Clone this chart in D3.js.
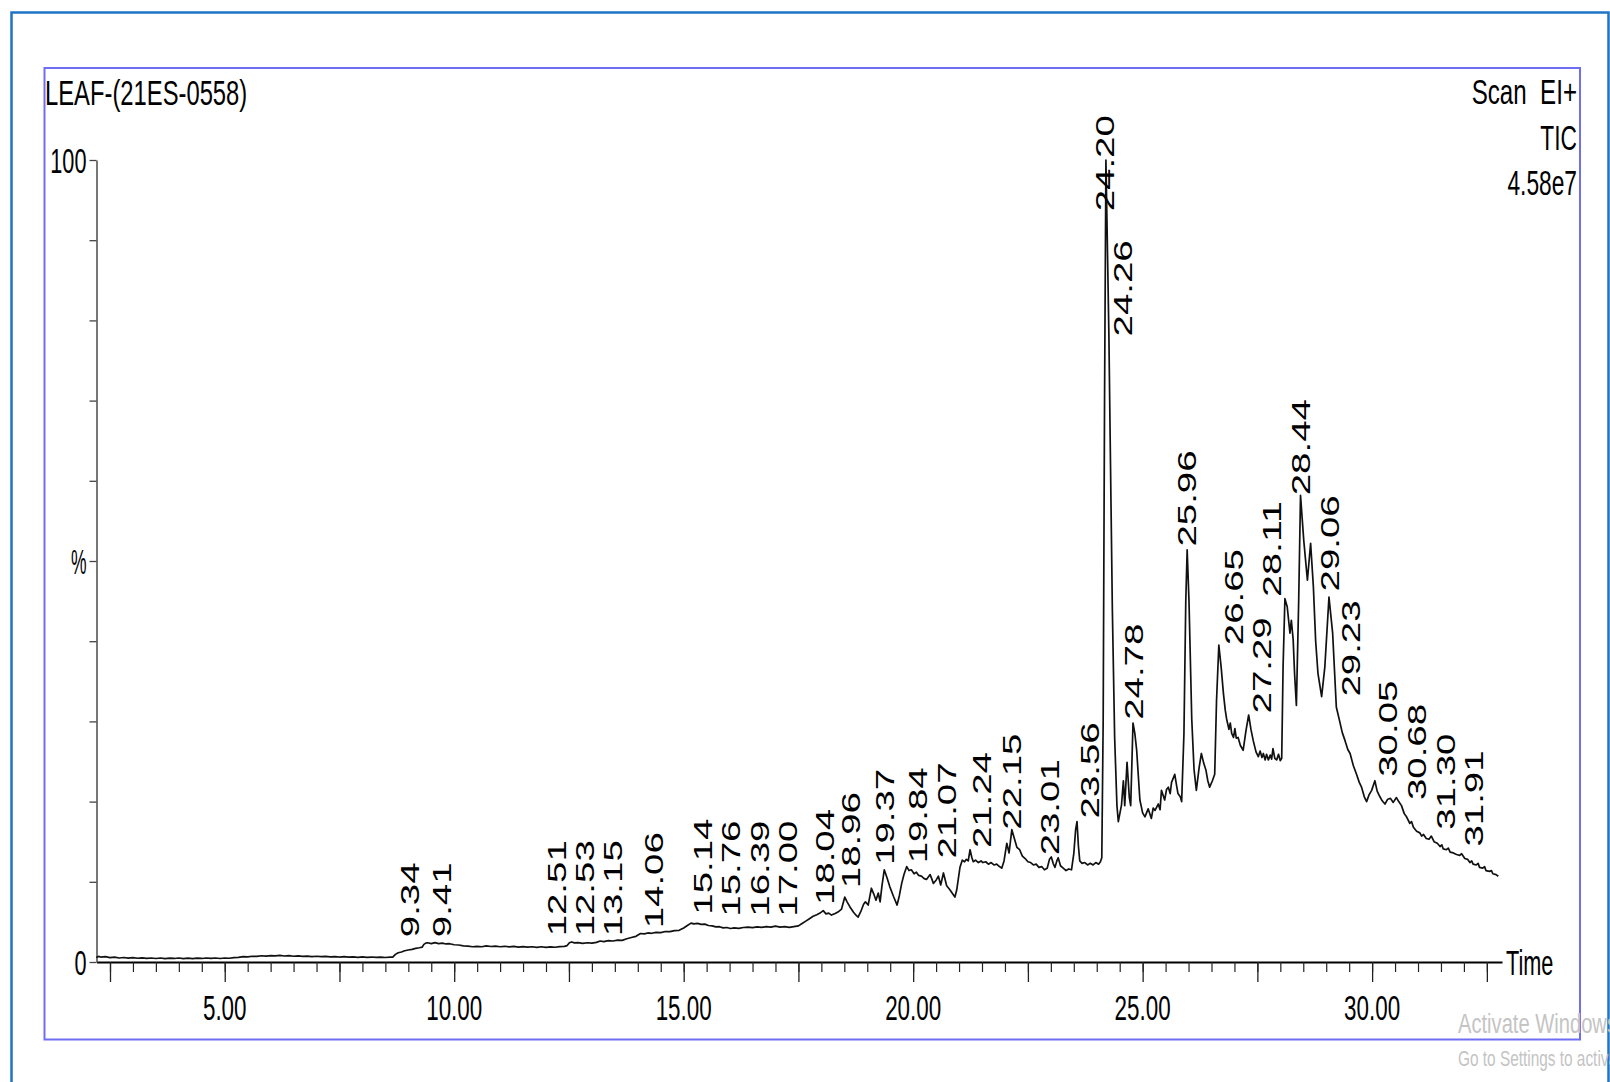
<!DOCTYPE html>
<html>
<head>
<meta charset="utf-8">
<script src="https://cdn.jsdelivr.net/npm/d3@7"></script>
<style>
  html, body { margin: 0; padding: 0; background: #ffffff; }
  svg { display: block; }
  text { font-family: "Liberation Sans", Arial, sans-serif; }
</style>
</head>
<body>
<script>
// ---------------- DATA ----------------
const chartTitle = "LEAF-(21ES-0558)";
const headerLines = ["Scan  EI+", "TIC", "4.58e7"];
const xAxisTitle = "Time";

// X axis tick labels (minutes)
const xLabelValues = [5, 10, 15, 20, 25, 30];
const xLabelTexts = ["5.00", "10.00", "15.00", "20.00", "25.00", "30.00"];

// Y axis labels (% relative abundance)
const yLabelValues = [0, 50, 100];
const yLabelTexts = ["0", "%", "100"];

// TIC trace: [retention time (min), relative intensity (%)]
const tracePoints = [
  [2.20,0.55],[2.25,0.70],[2.30,0.62],[2.40,0.66],[2.50,0.55],[2.60,0.60],[2.70,0.50],[2.80,0.56],[2.90,0.48],[3.00,0.54],
  [3.10,0.47],[3.20,0.52],[3.30,0.45],[3.40,0.50],[3.50,0.44],[3.60,0.50],[3.70,0.43],[3.80,0.49],[3.90,0.44],[4.00,0.50],
  [4.10,0.43],[4.20,0.48],[4.30,0.42],[4.40,0.48],[4.50,0.44],[4.60,0.50],[4.70,0.45],[4.80,0.50],[4.90,0.44],[5.00,0.50],
  [5.10,0.47],[5.20,0.55],[5.30,0.58],[5.40,0.66],[5.50,0.64],[5.60,0.72],[5.70,0.70],[5.80,0.78],[5.90,0.74],[6.00,0.80],
  [6.10,0.76],[6.20,0.82],[6.30,0.75],[6.40,0.80],[6.50,0.72],[6.60,0.76],[6.70,0.70],[6.80,0.74],[6.90,0.68],[7.00,0.72],
  [7.10,0.66],[7.20,0.70],[7.30,0.64],[7.40,0.68],[7.50,0.62],[7.60,0.66],[7.70,0.60],[7.80,0.64],[7.90,0.58],[8.00,0.63],
  [8.10,0.58],[8.20,0.62],[8.30,0.57],[8.40,0.61],[8.50,0.56],[8.60,0.60],[8.66,0.60],
  [8.72,0.95],[8.78,1.15],[8.85,1.25],[8.92,1.40],[9.00,1.50],[9.08,1.58],[9.16,1.70],[9.24,1.78],[9.30,1.85],[9.34,2.20],
  [9.38,2.35],[9.42,2.40],[9.50,2.30],[9.58,2.42],[9.66,2.30],[9.74,2.36],[9.82,2.25],[9.90,2.28],[10.00,2.15],[10.10,2.12],
  [10.20,2.02],[10.30,1.98],[10.40,1.90],[10.50,1.96],[10.60,1.90],[10.70,2.00],[10.80,1.93],[10.90,1.98],[11.00,1.90],[11.10,1.96],
  [11.20,1.88],[11.30,1.94],[11.40,1.86],[11.50,1.92],[11.60,1.85],[11.70,1.90],[11.80,1.83],[11.90,1.90],[12.00,1.82],[12.10,1.88],
  [12.20,1.84],[12.30,1.92],[12.40,1.95],[12.46,2.05],[12.51,2.40],[12.56,2.50],[12.62,2.38],[12.70,2.42],[12.80,2.32],[12.90,2.40],
  [13.00,2.35],[13.10,2.45],[13.18,2.62],[13.26,2.55],[13.36,2.66],[13.46,2.62],[13.56,2.72],[13.66,2.70],[13.76,2.90],[13.86,3.05],
  [13.96,3.20],[14.06,3.55],[14.14,3.50],[14.22,3.62],[14.30,3.58],[14.40,3.70],[14.50,3.66],[14.60,3.80],[14.70,3.78],[14.80,3.92],
  [14.90,3.95],[15.00,4.25],[15.08,4.55],[15.16,4.85],[15.22,4.75],[15.30,4.82],[15.38,4.70],[15.46,4.72],[15.54,4.55],[15.62,4.50],
  [15.70,4.38],[15.78,4.40],[15.86,4.25],[15.94,4.30],[16.02,4.18],[16.10,4.25],[16.20,4.20],[16.30,4.30],[16.40,4.35],[16.50,4.28],
  [16.60,4.38],[16.70,4.32],[16.80,4.42],[16.90,4.35],[17.00,4.48],[17.10,4.35],[17.20,4.40],[17.30,4.32],[17.40,4.42],[17.50,4.50],
  [17.58,4.80],[17.66,5.10],[17.74,5.40],[17.82,5.70],[17.90,5.90],[17.97,6.10],[18.04,6.40],[18.10,6.00],[18.16,6.10],[18.22,5.85],
  [18.30,6.05],[18.38,6.30],[18.44,6.60],[18.51,8.10],[18.56,7.50],[18.62,6.90],[18.70,6.20],[18.76,5.80],[18.80,5.60],[18.86,6.30],
  [18.92,7.20],[18.96,7.50],[19.02,7.10],[19.09,9.20],[19.14,8.50],[19.19,7.70],[19.24,8.60],[19.28,7.50],[19.32,9.50],[19.37,11.50],
  [19.43,10.50],[19.49,9.40],[19.57,8.20],[19.65,7.10],[19.70,8.30],[19.75,9.80],[19.80,10.90],[19.86,11.90],[19.91,11.40],[19.96,11.50],
  [20.02,11.00],[20.07,11.20],[20.12,10.80],[20.18,10.70],[20.24,10.40],[20.29,10.30],[20.33,10.60],[20.37,10.90],[20.41,10.30],[20.44,9.80],
  [20.50,10.20],[20.55,10.70],[20.60,9.60],[20.66,11.10],[20.70,10.20],[20.73,9.50],[20.80,9.00],[20.86,8.50],[20.91,8.10],[20.95,9.00],
  [20.98,10.20],[21.02,11.80],[21.07,12.70],[21.12,12.50],[21.16,12.80],[21.20,12.60],[21.24,14.00],[21.28,13.00],[21.31,12.50],[21.36,12.70],
  [21.42,12.40],[21.48,12.60],[21.52,12.40],[21.58,12.50],[21.64,12.20],[21.70,12.40],[21.76,12.10],[21.82,12.20],[21.88,11.90],[21.93,11.70],
  [21.98,12.60],[22.04,14.80],[22.09,13.60],[22.15,16.50],[22.20,15.50],[22.26,14.30],[22.32,14.00],[22.38,13.20],[22.44,12.90],[22.50,12.50],
  [22.56,12.40],[22.62,12.10],[22.68,12.20],[22.74,11.80],[22.80,11.90],[22.86,11.50],[22.92,11.70],[22.97,12.80],[23.01,13.10],[23.05,12.30],
  [23.09,11.80],[23.13,12.60],[23.16,13.00],[23.21,12.00],[23.27,11.70],[23.33,11.40],[23.39,11.60],[23.45,11.50],[23.50,13.50],[23.54,16.50],
  [23.57,17.50],[23.60,14.50],[23.63,12.60],[23.68,12.30],[23.74,12.40],[23.80,12.10],[23.86,12.30],[23.92,12.10],[23.98,12.40],[24.04,12.20],
  [24.08,12.50],[24.11,13.00],[24.14,30.0],[24.17,70.0],[24.20,100.0],[24.23,90.0],[24.265,78.0],[24.30,62.0],[24.34,44.0],[24.39,28.0],
  [24.44,19.5],[24.47,17.5],[24.54,19.6],[24.58,22.6],[24.61,19.5],[24.66,24.9],[24.71,20.5],[24.74,19.5],[24.79,29.8],[24.83,28.5],
  [24.87,26.4],[24.94,20.2],[25.00,18.6],[25.05,18.1],[25.12,19.1],[25.19,17.9],[25.23,19.2],[25.27,18.9],[25.34,19.7],[25.38,19.0],
  [25.41,21.4],[25.48,20.2],[25.52,21.5],[25.56,21.8],[25.60,21.0],[25.63,22.4],[25.70,23.4],[25.74,22.0],[25.77,21.0],[25.82,20.6],
  [25.85,20.0],[25.90,28.5],[25.94,45.0],[25.97,51.4],[26.01,45.0],[26.07,30.3],[26.12,24.0],[26.17,21.4],[26.23,24.2],[26.28,26.0],
  [26.33,24.8],[26.38,23.9],[26.42,22.6],[26.46,21.8],[26.52,22.6],[26.57,23.4],[26.61,32.6],[26.66,39.5],[26.71,36.8],[26.76,33.5],
  [26.80,31.4],[26.83,30.3],[26.88,29.0],[26.91,29.8],[26.94,28.5],[26.98,28.0],[27.01,29.1],[27.04,27.9],[27.08,28.0],[27.13,27.0],
  [27.19,26.4],[27.25,28.8],[27.31,30.8],[27.36,29.0],[27.41,27.6],[27.47,26.2],[27.52,25.6],[27.56,26.3],[27.60,25.5],[27.63,26.0],
  [27.67,25.2],[27.70,25.9],[27.74,25.2],[27.78,25.8],[27.81,25.3],[27.84,26.6],[27.88,25.4],[27.92,25.2],[27.96,25.9],[28.00,25.1],
  [28.03,25.4],[28.06,36.8],[28.10,45.3],[28.15,44.3],[28.21,41.0],[28.24,42.6],[28.28,40.2],[28.31,36.0],[28.35,32.0],[28.40,45.0],
  [28.44,58.2],[28.51,52.6],[28.59,47.6],[28.66,52.2],[28.72,46.8],[28.77,40.0],[28.82,36.0],[28.90,33.1],[28.97,36.8],[29.06,45.5],
  [29.14,41.0],[29.22,31.8],[29.29,30.1],[29.35,28.6],[29.41,27.6],[29.47,26.5],[29.52,26.0],[29.59,24.5],[29.66,23.4],[29.72,22.4],
  [29.77,21.8],[29.83,20.6],[29.88,20.0],[29.93,20.8],[29.99,21.4],[30.06,22.6],[30.11,21.3],[30.17,20.6],[30.22,20.1],[30.28,19.7],
  [30.34,20.3],[30.40,20.4],[30.46,19.9],[30.53,20.5],[30.58,20.0],[30.64,19.5],[30.70,18.5],[30.75,18.1],[30.82,17.3],[30.86,17.5],
  [30.90,16.8],[30.97,16.3],[31.04,16.1],[31.08,15.7],[31.12,15.9],[31.18,15.4],[31.24,15.3],[31.29,15.7],[31.35,15.0],[31.42,14.8],
  [31.48,14.4],[31.52,14.6],[31.55,14.1],[31.62,14.0],[31.66,14.2],[31.70,13.7],[31.77,13.6],[31.84,13.4],[31.91,13.3],[31.95,13.5],
  [32.02,12.9],[32.08,12.8],[32.13,12.4],[32.17,12.6],[32.20,12.2],[32.27,12.1],[32.31,12.3],[32.34,11.8],[32.41,11.7],[32.45,11.9],
  [32.48,11.4],[32.56,11.3],[32.60,11.4],[32.63,11.0],[32.70,10.9],[32.75,10.7]
];

// Peak labels and where each label's foot sits (time, %)
const peakLabelTexts = ["9.34","9.41","12.51","12.53","13.15","14.06","15.14","15.76","16.39","17.00",
  "18.04","18.96","19.37","19.84","21.07","21.24","22.15","23.01","23.56","24.20",
  "24.26","24.78","25.96","26.65","27.29","28.11","28.44","29.06","29.23","30.05",
  "30.68","31.30","31.91"];
const peakLabelTimes = [9.04, 9.73, 12.23, 12.85, 13.47, 14.35, 15.43, 16.04, 16.66, 17.28,
  18.08, 18.65, 19.39, 20.11, 20.73, 21.50, 22.15, 22.99, 23.86, 24.19,
  24.58, 24.81, 25.97, 26.98, 27.60, 27.82, 28.44, 29.09, 29.53, 30.35,
  30.98, 31.62, 32.22];
const peakLabelPcts = [3.1, 3.1, 3.2, 3.2, 3.2, 4.2, 5.9, 5.65, 5.65, 5.65,
  7.1, 9.2, 12.1, 12.3, 12.9, 14.2, 16.5, 13.3, 17.9, 93.6,
  78.0, 30.2, 51.8, 39.5, 31.0, 45.5, 58.2, 46.2, 33.1, 23.1,
  20.2, 16.5, 14.4];

// ---------------- DRAWING ----------------
const W = 1610, H = 1082;
const svg = d3.select("body").append("svg").attr("width", W).attr("height", H);

// frames
svg.append("rect").attr("x", 11.5).attr("y", 12.5).attr("width", 1597).attr("height", 1100)
  .attr("fill", "none").attr("stroke", "#1f74c6").attr("stroke-width", 2.5);
svg.append("rect").attr("x", 44.5).attr("y", 68).attr("width", 1535.5).attr("height", 971.5)
  .attr("fill", "none").attr("stroke", "#6e6ef4").attr("stroke-width", 2);

const x = d3.scaleLinear().domain([2.206, 32.83]).range([96.5, 1502]);
const y = d3.scaleLinear().domain([0, 100]).range([962, 160]);

const SX = 0.64; // horizontal compression of the chart's lettering
function squeezed(parent, px, py, str, size, anchor, sx) {
  const g = parent.append("g").attr("transform", `translate(${px},${py}) scale(${sx || SX},1)`);
  return g.append("text").attr("x", 0).attr("y", 0)
    .attr("font-size", size).attr("text-anchor", anchor || "start")
    .attr("fill", "#000").style("white-space", "pre").text(str);
}

// x axis: minor ticks every 0.5 min, long ticks every 2.5 min
const minorTicks = d3.range(2.5, 32.51, 0.5);
const longTicks = d3.range(2.5, 32.51, 2.5);
const gxMinor = svg.append("g").attr("transform", `translate(0,${y(0)})`)
  .call(d3.axisBottom(x).tickValues(minorTicks).tickSize(10).tickSizeOuter(0).tickFormat(""));
gxMinor.select(".domain").attr("stroke", "#000").attr("stroke-width", 2.2);
gxMinor.selectAll(".tick line").attr("stroke", "#222").attr("stroke-width", 1.2);
const gxLong = svg.append("g").attr("transform", `translate(0,${y(0)})`)
  .call(d3.axisBottom(x).tickValues(longTicks).tickSize(20).tickSizeOuter(0).tickFormat(""));
gxLong.select(".domain").remove();
gxLong.selectAll(".tick line").attr("stroke", "#222").attr("stroke-width", 1.3);

xLabelValues.forEach((v, i) => {
  squeezed(svg, x(v), 1020, xLabelTexts[i], 35, "middle");
});
squeezed(svg, 1506, 975, xAxisTitle, 35, "start", 0.62);

// y axis
const gy = svg.append("g").attr("transform", `translate(${x(2.206)},0)`)
  .call(d3.axisLeft(y).tickValues(d3.range(0, 100.1, 10)).tickSize(7).tickSizeOuter(0).tickFormat(""));
gy.select(".domain").attr("stroke", "#555").attr("stroke-width", 1.6);
gy.selectAll(".tick line").attr("stroke", "#444").attr("stroke-width", 1.3);
yLabelValues.forEach((v, i) => {
  squeezed(svg, 86.5, y(v) + 13, yLabelTexts[i], 35, "end", yLabelTexts[i] === "%" ? 0.5 : 0.62);
});

// title and header block
squeezed(svg, 45, 105, chartTitle, 35, "start", 0.68);
headerLines.forEach((s, i) => {
  squeezed(svg, 1577, 104 + i * 45.5, s, 35, "end", i === 0 ? 0.69 : 0.65);
});

// TIC trace
const line = d3.line().x(d => x(d[0])).y(d => y(d[1])).curve(d3.curveLinear);
svg.append("path").datum(tracePoints)
  .attr("d", line).attr("fill", "none")
  .attr("stroke", "#111").attr("stroke-width", 1.7).attr("stroke-linejoin", "round");

// peak labels (rotated, reading bottom-to-top); stretched along the text
const emPx = 38.4; // label length per em of Arial advance
function emWidth(s) {
  let w = 0;
  for (const c of s) w += (c === "." ? 0.278 : 0.556);
  return w;
}
peakLabelTexts.forEach((s, i) => {
  const px = x(peakLabelTimes[i]) + 9;
  const py = y(peakLabelPcts[i]);
  svg.append("text")
    .attr("transform", `translate(${px},${py}) rotate(-90)`)
    .attr("font-size", 25).attr("fill", "#000")
    .attr("textLength", emWidth(s) * emPx).attr("lengthAdjust", "spacingAndGlyphs")
    .text(s);
});

// OS watermark visible in the screenshot (cut off by the window edge, as in the original)
svg.append("g").attr("transform", "translate(1458,1033) scale(0.72,1)")
  .append("text").attr("font-size", 28).attr("fill", "#c4c4c4").text("Activate Windows");
svg.append("g").attr("transform", "translate(1458,1066) scale(0.7,1)")
  .append("text").attr("font-size", 22).attr("fill", "#c4c4c4").text("Go to Settings to activate Windows.");
</script>
</body>
</html>
